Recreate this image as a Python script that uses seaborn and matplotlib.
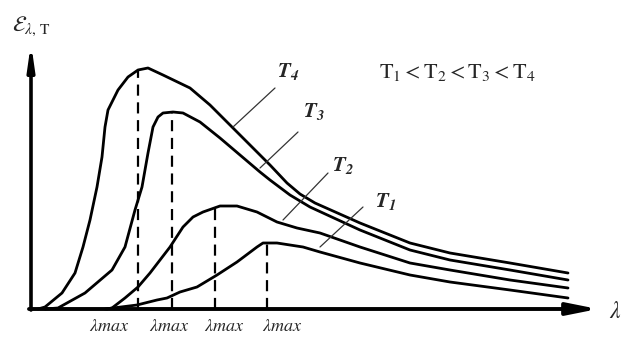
import numpy as np
import pandas as pd
import matplotlib
matplotlib.use("Agg")
import matplotlib.pyplot as plt
import seaborn as sns

# Planck-type curves (arbitrary units)
lam_T4 = [0.07, 0.14, 0.31, 0.44, 0.52, 0.59, 0.66, 0.71, 0.74, 0.77, 0.87, 0.97, 1.07,
          1.17, 1.32, 1.59, 1.79, 1.99, 2.19, 2.39, 2.56, 2.69, 2.84, 3.29, 3.79, 4.19,
          4.79, 5.37]
eps_T4 = [0.00, 0.02, 0.16, 0.36, 0.62, 0.89, 1.22, 1.52, 1.82, 1.99, 2.19, 2.32, 2.39,
          2.41, 2.34, 2.21, 2.04, 1.84, 1.64, 1.44, 1.26, 1.15, 1.06, 0.86, 0.66, 0.56,
          0.46, 0.36]

lam_T3 = [0.14, 0.27, 0.54, 0.81, 0.94, 1.04, 1.11, 1.17, 1.22, 1.27, 1.32, 1.42, 1.52,
          1.69, 1.89, 2.09, 2.29, 2.39, 2.59, 2.79, 3.29, 3.79, 4.19, 4.79, 5.37]
eps_T3 = [0.00, 0.01, 0.16, 0.39, 0.62, 0.99, 1.22, 1.56, 1.82, 1.92, 1.96, 1.97, 1.96,
          1.87, 1.71, 1.54, 1.37, 1.29, 1.14, 1.02, 0.79, 0.59, 0.49, 0.39, 0.29]

lam_T2 = [0.76, 0.81, 0.94, 1.07, 1.19, 1.29, 1.39, 1.52, 1.62, 1.72, 1.89, 2.06, 2.26,
          2.46, 2.66, 2.89, 3.29, 3.79, 4.19, 4.79, 5.37]
eps_T2 = [0.00, 0.01, 0.11, 0.22, 0.36, 0.49, 0.62, 0.82, 0.92, 0.97, 1.03, 1.03, 0.97,
          0.87, 0.81, 0.76, 0.62, 0.46, 0.39, 0.29, 0.21]

lam_T1 = [0.74, 0.82, 1.06, 1.26, 1.36, 1.49, 1.66, 1.86, 2.06, 2.26, 2.32, 2.46, 2.72,
          2.89, 3.29, 3.79, 4.19, 4.79, 5.37]
eps_T1 = [0.00, 0.01, 0.04, 0.09, 0.11, 0.17, 0.22, 0.34, 0.47, 0.62, 0.66, 0.66, 0.62,
          0.57, 0.46, 0.34, 0.27, 0.19, 0.11]

# peak positions (T1..T4)
curve_names = ["T1", "T2", "T3", "T4"]
lam_max = [2.36, 1.84, 1.41, 1.07]
eps_max = [0.66, 1.03, 1.97, 2.38]
curve_labels = [r"$\mathbfit{T_1}$", r"$\mathbfit{T_2}$", r"$\mathbfit{T_3}$", r"$\mathbfit{T_4}$"]
order_text = r"$\mathrm{T_1<T_2<T_3<T_4}$"

df = pd.concat([
    pd.DataFrame({"lam": lam_T1, "eps": eps_T1, "T": "T1"}),
    pd.DataFrame({"lam": lam_T2, "eps": eps_T2, "T": "T2"}),
    pd.DataFrame({"lam": lam_T3, "eps": eps_T3, "T": "T3"}),
    pd.DataFrame({"lam": lam_T4, "eps": eps_T4, "T": "T4"}),
], ignore_index=True)

sns.set_style("white")
plt.rcParams["mathtext.fontset"] = "stix"

fig = plt.figure(figsize=(6.23, 3.39), dpi=100)
ax = fig.add_axes([0, 0, 1, 1])

sns.lineplot(data=df, x="lam", y="eps", hue="T", units="T", estimator=None, sort=False,
             palette=["black"] * 4, linewidth=2.0, legend=False, ax=ax)
for ln in ax.lines:
    ln.set_solid_joinstyle("round")

# dashed drop lines at lambda_max
for lm, em in zip(lam_max, eps_max):
    ax.plot([lm, lm], [0, em], color="black", lw=1.6, dashes=(5, 3))

# lambda_max labels under the axis
lab_x = [2.51, 1.93, 1.38, 0.78]
for x in lab_x:
    ax.text(x, -0.17, r"$\mathit{\lambda max}$", ha="center", va="center", fontsize=13)

# curve labels with leader lines
label_pos = [(3.55, 1.07), (3.12, 1.43), (2.83, 1.97), (2.57, 2.37)]
leaders = [((3.32, 1.02), (2.89, 0.62)), ((2.97, 1.36), (2.52, 0.89)),
           ((2.67, 1.77), (2.29, 1.41)), ((2.44, 2.21), (2.02, 1.82))]
for lbl, (px, py), (a, b) in zip(curve_labels, label_pos, leaders):
    ax.text(px, py, lbl, ha="center", va="center", fontsize=15)
    ax.plot([a[0], b[0]], [a[1], b[1]], color="#333333", lw=0.9)

ax.text(4.26, 2.36, order_text, ha="center", va="center", fontsize=16)

# axes with arrows
ax.annotate("", xy=(5.67, 0), xytext=(-0.02, 0),
            arrowprops=dict(arrowstyle="-|>,head_length=0.9,head_width=0.18",
                            lw=2.8, color="black", mutation_scale=20, shrinkA=0, shrinkB=0))
ax.annotate("", xy=(0, 2.66), xytext=(0, -0.01),
            arrowprops=dict(arrowstyle="-|>,head_length=0.7,head_width=0.1",
                            lw=2.6, color="black", mutation_scale=20, shrinkA=0, shrinkB=0))
ax.text(5.84, -0.02, r"$\lambda$", ha="center", va="center", fontsize=17)
ax.text(0.0, 2.83, r"$\mathcal{E}_{\lambda,\,\mathrm{T}}$", ha="center", va="center", fontsize=16)

ax.set_xlim(-0.31, 5.92)
ax.set_ylim(-0.30, 3.09)
ax.axis("off")

fig.savefig("out.png", dpi=100, facecolor="white")
